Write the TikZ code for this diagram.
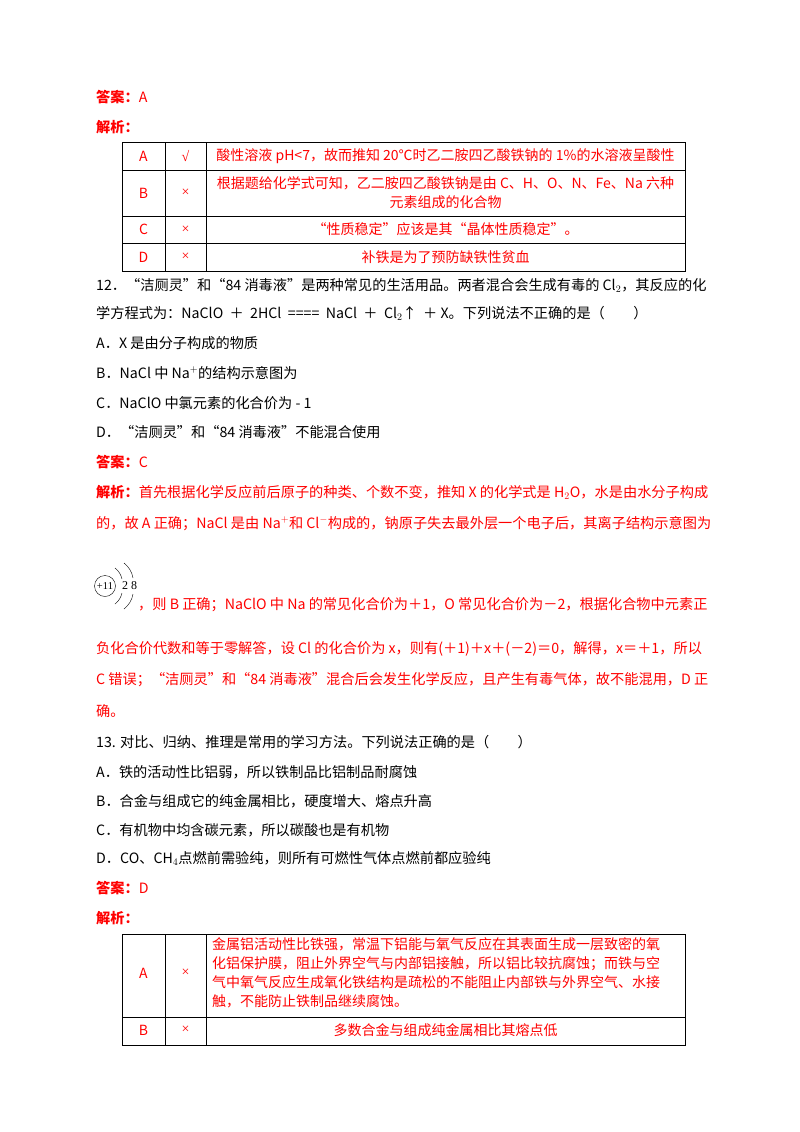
\documentclass[tikz,border=0pt]{standalone}
\usepackage{fontspec}
\setmainfont{Noto Sans CJK SC}
\newfontfamily\latf{Liberation Serif}
\newcommand{\fs}{\fontsize{14.2}{22}\selectfont}
\newcommand{\ft}{\fontsize{14}{19}\selectfont}
\begin{document}
\begin{tikzpicture}[x=1pt,y=-1pt,
  txt/.style={anchor=base west,inner sep=0,font=\fs},
  rtxt/.style={txt,text=red},
  cell/.style={inner sep=0,font=\ft,text=red},
  grid/.style={line width=0.8pt}]
\useasboundingbox[fill=white] (0,0) rectangle (800,1132);
% header
\node[rtxt] (ans1) at (96,102) {\textbf{答案：}A};
\node[rtxt] (jx1) at (96,132) {\textbf{解析：}};
% table 1
\draw[grid] (122,142) rectangle (685,271);
\foreach \yy in {170,216,243} \draw[grid] (122,\yy) -- (685,\yy);
\foreach \xx in {165,206} \draw[grid] (\xx,142) -- (\xx,271);
\node[cell] (t1a1) at (143.5,156) {A};
\node[cell] (t1a2) at (185.5,156) {{\latf\bfseries √}};
\node[cell] (t1a3) at (445.5,156) {酸性溶液 pH<7，故而推知 20℃时乙二胺四乙酸铁钠的 1\%的水溶液呈酸性};
\node[cell] (t1b1) at (143.5,193) {B};
\node[cell] (t1b2) at (185.5,193) {{\latf ×}};
\node[cell,align=center] (t1b3) at (445.5,193) {根据题给化学式可知，乙二胺四乙酸铁钠是由 C、H、O、N、Fe、Na 六种\\元素组成的化合物};
\node[cell] (t1c1) at (143.5,229.5) {C};
\node[cell] (t1c2) at (185.5,229.5) {{\latf ×}};
\node[cell] (t1c3) at (445.5,229.5) {“性质稳定”应该是其“晶体性质稳定”。};
\node[cell] (t1d1) at (143.5,257) {D};
\node[cell] (t1d2) at (185.5,257) {{\latf ×}};
\node[cell] (t1d3) at (445.5,257) {补铁是为了预防缺铁性贫血};
% question 12
\node[txt] (q12a) at (96,290) {12．“洁厕灵”和“84 消毒液”是两种常见的生活用品。两者混合会生成有毒的 Cl$_2$，其反应的化};
\node[txt] (q12b) at (96,318) {学方程式为：NaClO \ ＋ \ 2HCl \ ==== \ NaCl \ ＋ \ Cl$_2$↑ \ ＋ X。下列说法不正确的是（\quad\quad）};
\node[txt] (q12A) at (96,348) {A．X 是由分子构成的物质};
\node[txt] (q12B) at (96,378) {B．NaCl 中 Na$^+$的结构示意图为};
\node[txt] (q12C) at (96,408) {C．NaClO 中氯元素的化合价为 - 1};
\node[txt] (q12D) at (96,437) {D．“洁厕灵”和“84 消毒液”不能混合使用};
\node[rtxt] (ans2) at (96,467) {\textbf{答案：}C};
\node[rtxt] (jx2) at (96,497) {\textbf{解析：}首先根据化学反应前后原子的种类、个数不变，推知 X 的化学式是 H$_2$O，水是由水分子构成};
\node[rtxt] (jx2b) at (96,528) {的，故 A 正确；NaCl 是由 Na$^+$和 Cl$^-$构成的，钠原子失去最外层一个电子后，其离子结构示意图为};
% atom diagram
\node[draw,circle,inner sep=0,minimum size=21,font=\fontsize{10.5}{10.5}\selectfont\latf] (nuc) at (105,586) {+11};
\draw (115,568) .. controls (119,571) and (121,575) .. (122,579);
\draw (122,593) .. controls (121,597) and (119,601) .. (115,604);
\draw (124,563) .. controls (129,567) and (132,572) .. (133,578);
\draw (133,594) .. controls (132,600) and (129,605) .. (124,609);
\node[inner sep=0,font=\fontsize{12}{12}\selectfont\latf] (e1) at (125,586) {2};
\node[inner sep=0,font=\fontsize{12}{12}\selectfont\latf] (e2) at (134,586) {8};
\node[rtxt] (jx2c) at (138,609) {，则 B 正确；NaClO 中 Na 的常见化合价为＋1，O 常见化合价为－2，根据化合物中元素正};
\node[rtxt] (jx2d) at (96,653) {负化合价代数和等于零解答，设 Cl 的化合价为 x，则有(＋1)＋x＋(－2)＝0，解得，x＝＋1，所以};
\node[rtxt] (jx2e) at (96,684) {C 错误；“洁厕灵”和“84 消毒液”混合后会发生化学反应，且产生有毒气体，故不能混用，D 正};
\node[rtxt] (jx2f) at (96,716) {确。};
% question 13
\node[txt] (q13) at (96,747) {13. 对比、归纳、推理是常用的学习方法。下列说法正确的是（\quad\quad）};
\node[txt] (q13A) at (96,777) {A．铁的活动性比铝弱，所以铁制品比铝制品耐腐蚀};
\node[txt] (q13B) at (96,806) {B．合金与组成它的纯金属相比，硬度增大、熔点升高};
\node[txt] (q13C) at (96,835) {C．有机物中均含碳元素，所以碳酸也是有机物};
\node[txt] (q13D) at (96,863) {D．CO、CH$_4$点燃前需验纯，则所有可燃性气体点燃前都应验纯};
\node[rtxt] (ans3) at (96,893) {\textbf{答案：}D};
\node[rtxt] (jx3) at (96,923) {\textbf{解析：}};
% table 2
\draw[grid] (122,934) rectangle (685,1045);
\draw[grid] (122,1017) -- (685,1017);
\foreach \xx in {165,206} \draw[grid] (\xx,934) -- (\xx,1045);
\node[cell] (t2a1) at (143.5,973) {A};
\node[cell] (t2a2) at (185.5,973) {{\latf ×}};
\node[cell,align=left,anchor=north west] (t2a3) at (212,937) {金属铝活动性比铁强，常温下铝能与氧气反应在其表面生成一层致密的氧\\化铝保护膜，阻止外界空气与内部铝接触，所以铝比较抗腐蚀；而铁与空\\气中氧气反应生成氧化铁结构是疏松的不能阻止内部铁与外界空气、水接\\触，不能防止铁制品继续腐蚀。};
\node[cell] (t2b1) at (143.5,1030) {B};
\node[cell] (t2b2) at (185.5,1030) {{\latf ×}};
\node[cell] (t2b3) at (445.5,1030) {多数合金与组成纯金属相比其熔点低};
\end{tikzpicture}
\end{document}
